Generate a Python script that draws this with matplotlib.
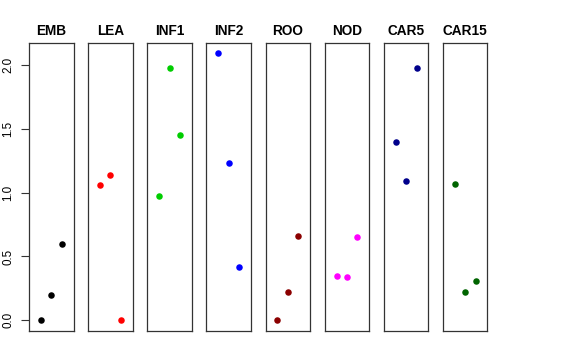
import matplotlib
matplotlib.use("Agg")
import matplotlib.pyplot as plt

plt.rcParams['font.family'] = ['Liberation Sans', 'DejaVu Sans']

groups = ["EMB", "LEA", "INF1", "INF2", "ROO", "NOD", "CAR5", "CAR15"]
colors = ["black", "red", "#00CD00", "blue", "#8B0000", "magenta", "#00008B", "#006400"]
values = [
    [0.00, 0.20, 0.60],
    [1.06, 1.14, 0.00],
    [0.97, 1.98, 1.45],
    [2.09, 1.23, 0.42],
    [0.00, 0.22, 0.66],
    [0.35, 0.34, 0.65],
    [1.40, 1.09, 1.98],
    [1.07, 0.22, 0.31],
]
xpos = [1, 2, 3]
yticks = [0.0, 0.5, 1.0, 1.5, 2.0]

W, H = 576, 360
fig = plt.figure(figsize=(W / 100, H / 100), dpi=100)

for i, (g, c, v) in enumerate(zip(groups, colors, values)):
    left = 29 + i * 59.14
    ax = fig.add_axes([left / W, 29 / H, 44.5 / W, 288 / H])
    ax.scatter(xpos, v, s=22, color=c, linewidths=0, zorder=3)
    ax.set_xlim(-0.135, 4.135)
    ax.set_ylim(-0.084, 2.172)
    ax.set_xticks([])
    for sp in ax.spines.values():
        sp.set_color("#333333")
        sp.set_linewidth(0.9)
    ax.set_title(g, fontsize=9.8, fontweight="bold", pad=6)
    if i == 0:
        ax.set_yticks(yticks)
        ax.set_yticklabels([f"{t:.1f}" for t in yticks], rotation=90, va="center", fontsize=8.4)
        ax.tick_params(axis="y", length=5.5, width=0.8, pad=5, colors="#333333", labelcolor="black")
    else:
        ax.set_yticks([])

fig.savefig("out.png", dpi=100)
